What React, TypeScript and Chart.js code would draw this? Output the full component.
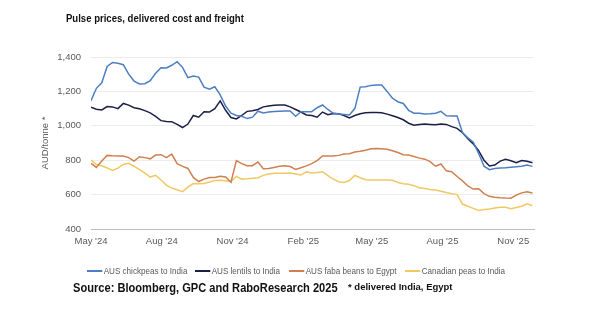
import React, { useEffect, useRef } from "react";
import { Chart, registerables } from "chart.js";

Chart.register(...registerables);

// Weekly observations starting 1 May 2024 (day offsets)
const startDate = "2024-05-01";
const weekDays: number[] = Array.from({ length: 83 }, (_, i) => i * 7);

const chickpeas: number[] = [
  1146, 1218, 1250, 1345, 1368, 1364, 1355, 1300, 1260, 1243,
  1245, 1262, 1305, 1338, 1336, 1352, 1373, 1340, 1280, 1290,
  1283, 1225, 1213, 1227, 1180, 1115, 1073, 1060, 1055, 1042,
  1050, 1085, 1075, 1080, 1083, 1085, 1086, 1086, 1055, 1082,
  1082, 1082, 1105, 1121, 1095, 1073, 1069, 1066, 1063, 1100,
  1225, 1227, 1235, 1237, 1237, 1200, 1160, 1140, 1130, 1090,
  1073, 1073, 1068, 1070, 1073, 1084, 1058, 1057, 1057, 960,
  930, 905, 840, 765, 745, 752, 754, 756, 759, 762,
  765, 772, 764,
];

const lentils: number[] = [
  1108, 1096, 1092, 1112, 1110, 1100, 1130, 1120, 1105, 1099,
  1088, 1075, 1055, 1030, 1025, 1024, 1008, 990, 1010, 1060,
  1050, 1082, 1080, 1100, 1145, 1090, 1048, 1040, 1060, 1084,
  1088, 1095, 1110, 1115, 1120, 1121, 1121, 1110, 1095, 1080,
  1063, 1060, 1050, 1080, 1065, 1072, 1070, 1060, 1046, 1060,
  1070, 1076, 1077, 1077, 1076, 1068, 1058, 1048, 1035, 1015,
  1003, 1008, 1010, 1008, 1006, 1010, 1008, 995, 985, 960,
  925, 895, 855, 800, 766, 772, 795, 805, 797, 785,
  798, 794, 785,
];

const fabaBeans: number[] = [
  782, 758, 795, 828, 826, 825, 824, 815, 795, 820,
  815, 808, 830, 832, 815, 835, 780, 764, 752, 700,
  676, 690, 699, 700, 707, 702, 672, 798, 780, 768,
  768, 790, 750, 752, 757, 765, 768, 763, 746, 756,
  767, 780, 798, 825, 825, 824, 828, 836, 838, 848,
  852, 858, 867, 868, 866, 864, 855, 845, 832, 830,
  822, 812, 806, 792, 765, 778, 738, 733, 705, 680,
  650, 632, 634, 606, 590, 585, 582, 580, 579, 597,
  610, 616, 609,
];

const canadianPeas: number[] = [
  801, 775, 768, 755, 740, 754, 775, 782, 765, 745,
  725, 702, 712, 685, 655, 638, 628, 617, 643, 664,
  663, 665, 673, 682, 683, 680, 676, 706, 690, 692,
  695, 698, 712, 720, 724, 724, 724, 726, 720, 714,
  732, 726, 728, 733, 710, 690, 675, 670, 682, 712,
  698, 686, 685, 685, 685, 685, 683, 670, 663, 660,
  652, 640, 636, 630, 627, 620, 612, 605, 600, 545,
  532, 520, 508, 513, 516, 522, 526, 527, 518, 525,
  532, 546, 535,
];

const tickDays: number[] = [0, 92, 184, 276, 365, 457, 549];
const tickLabels: string[] = ["May '24", "Aug '24", "Nov '24", "Feb '25", "May '25", "Aug '25", "Nov '25"];
const yTicks: number[] = [400, 600, 800, 1000, 1200, 1400];

const seriesNames: string[] = [
  "AUS chickpeas to India",
  "AUS lentils to India",
  "AUS faba beans to Egypt",
  "Canadian peas to India",
];
const seriesColors: string[] = ["#4d7ec3", "#1c1f45", "#cf8050", "#f0c964"];
const seriesData: number[][] = [chickpeas, lentils, fabaBeans, canadianPeas];

const FONT = "'Liberation Sans', Arial, sans-serif";

export default function App() {
  const ref = useRef<HTMLCanvasElement | null>(null);

  useEffect(() => {
    document.body.style.margin = "0";
    const canvas = ref.current;
    if (!canvas) return;
    const bgPlugin = {
      id: "bg",
      beforeDraw(c: any) {
        const ctx = c.ctx;
        ctx.save();
        ctx.fillStyle = "#ffffff";
        ctx.fillRect(0, 0, c.width, c.height);
        ctx.restore();
      },
    };
    const chart = new Chart(canvas, {
      type: "line",
      data: {
        datasets: seriesData.map((arr, k) => ({
          label: seriesNames[k],
          data: arr.map((v, i) => ({ x: weekDays[i], y: v })),
          borderColor: seriesColors[k],
          backgroundColor: seriesColors[k],
          borderWidth: 1.5,
          pointRadius: 0,
          tension: 0,
          fill: false,
        })),
      },
      options: {
        responsive: false,
        animation: false,
        layout: { padding: { left: 30, right: 67, top: 57, bottom: 78 } },
        plugins: {
          legend: { display: false },
          tooltip: { enabled: false },
        },
        scales: {
          x: {
            type: "linear",
            min: 0,
            max: 576,
            grid: { display: false, drawTicks: false },
            border: { display: true, color: "#bdbdbd", width: 1 },
            afterBuildTicks: (s: any) => {
              s.ticks = tickDays.map((v) => ({ value: v }));
            },
            afterFit: (s: any) => {
              s.height = 20;
            },
            ticks: {
              autoSkip: false,
              maxRotation: 0,
              padding: 7,
              color: "#595959",
              font: { family: FONT, size: 9.5 },
              callback: (v: any) => {
                const idx = tickDays.indexOf(Number(v));
                return idx >= 0 ? tickLabels[idx] : "";
              },
            },
          },
          y: {
            min: 400,
            max: 1400,
            afterBuildTicks: (s: any) => {
              s.ticks = yTicks.map((v) => ({ value: v }));
            },
            afterFit: (s: any) => {
              s.width = 61;
            },
            grid: { color: "#ececec", drawTicks: false, lineWidth: 1 },
            border: { display: false },
            title: {
              display: true,
              text: "AUD/tonne *",
              color: "#595959",
              font: { family: FONT, size: 9.5 },
              padding: { top: 10, bottom: 0 },
            },
            ticks: {
              padding: 10,
              color: "#595959",
              font: { family: FONT, size: 9.5 },
              callback: (v: any) => Number(v).toLocaleString("en-US"),
            },
          },
        },
      },
      plugins: [bgPlugin],
    });
    return () => chart.destroy();
  }, []);

  const legendX = [87, 195, 289, 405];
  return (
    <div style={{ position: "relative", width: 601, height: 327, background: "#fff", overflow: "hidden" }}>
      <canvas ref={ref} width={601} height={327} style={{ position: "absolute", left: 0, top: 0 }} />
      <div
        style={{
          position: "absolute",
          left: 66,
          top: 12,
          fontFamily: FONT,
          fontWeight: "bold",
          fontSize: 10.5,
          color: "#111",
          whiteSpace: "nowrap",
          transform: "scaleX(0.91)",
          transformOrigin: "left top",
        }}
      >
        Pulse prices, delivered cost and freight
      </div>
      {seriesNames.map((n, k) => (
        <div
          key={n}
          style={{
            position: "absolute",
            left: legendX[k],
            top: 265,
            height: 12,
            display: "flex",
            alignItems: "center",
            fontFamily: FONT,
            fontSize: 9,
            color: "#595959",
            whiteSpace: "nowrap",
            transform: "scaleX(0.9)",
            transformOrigin: "left center",
          }}
        >
          <span style={{ display: "inline-block", width: 17, height: 2, background: seriesColors[k], marginRight: 1.5 }} />
          <span>{n}</span>
        </div>
      ))}
      <div
        style={{
          position: "absolute",
          left: 73,
          top: 281,
          fontFamily: FONT,
          fontWeight: "bold",
          fontSize: 12,
          color: "#111",
          whiteSpace: "nowrap",
          transform: "scaleX(0.925)",
          transformOrigin: "left top",
        }}
      >
        Source: Bloomberg, GPC and RaboResearch 2025
      </div>
      <div
        style={{
          position: "absolute",
          left: 348,
          top: 281,
          fontFamily: FONT,
          fontWeight: "bold",
          fontSize: 9.5,
          color: "#111",
          whiteSpace: "nowrap",
        }}
      >
        * delivered India, Egypt
      </div>
    </div>
  );
}
